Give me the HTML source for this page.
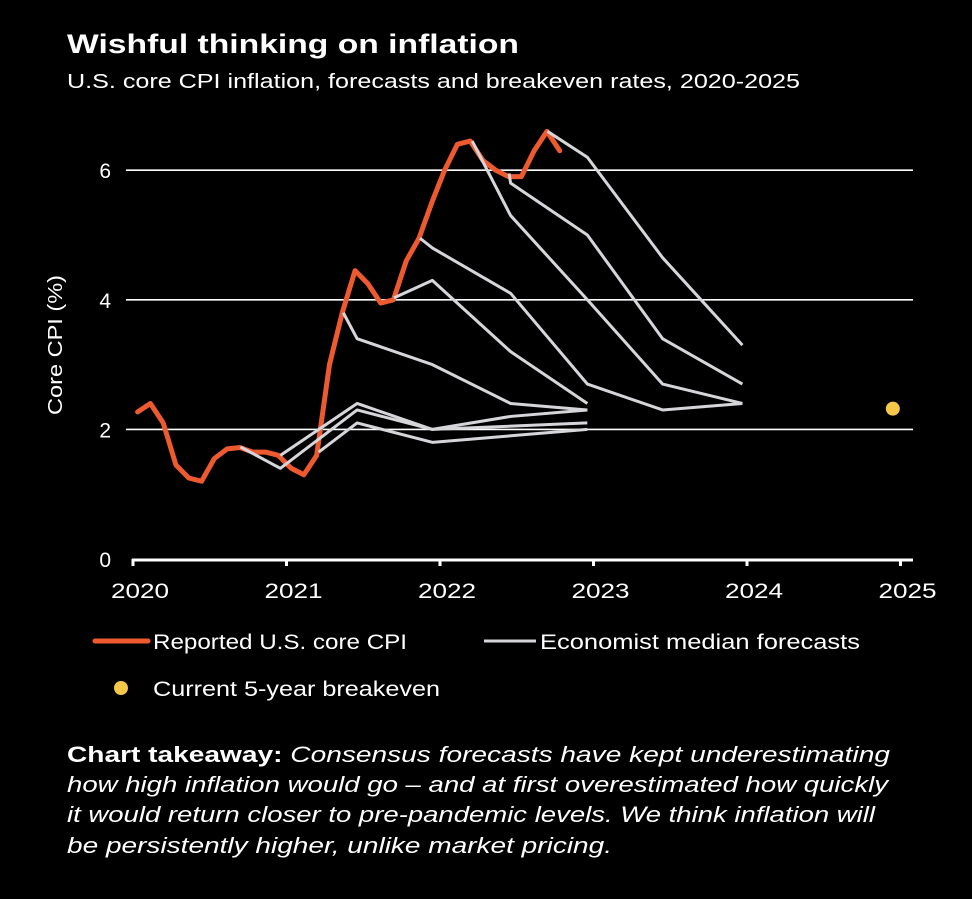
<!DOCTYPE html>
<html><head><meta charset="utf-8"><style>
html,body{margin:0;padding:0;background:#000;}
body{width:972px;height:894px;overflow:hidden;font-family:"Liberation Sans",sans-serif;color:#fff;}
svg text{font-family:"Liberation Sans",sans-serif;fill:#fff;}
</style></head><body>
<svg id="chart" width="972" height="894" viewBox="0 0 972 894" xmlns="http://www.w3.org/2000/svg">
<rect width="972" height="894" fill="#000"/>
<text x="67" y="53" font-size="27" font-weight="bold" textLength="452" lengthAdjust="spacingAndGlyphs">Wishful thinking on inflation</text>
<text x="67" y="88" font-size="20" textLength="733" lengthAdjust="spacingAndGlyphs">U.S. core CPI inflation, forecasts and breakeven rates, 2020-2025</text>
<text transform="translate(62,345) rotate(-90)" text-anchor="middle" font-size="20" textLength="140" lengthAdjust="spacingAndGlyphs">Core CPI (%)</text>
<g id="grid"></g>
<g id="series"></g>
<g>
<line x1="95" y1="641" x2="148" y2="641" stroke="#ee5a2f" stroke-width="5" stroke-linecap="round"/>
<text x="153" y="649" font-size="21" textLength="254" lengthAdjust="spacingAndGlyphs">Reported U.S. core CPI</text>
<line x1="484" y1="641" x2="536" y2="641" stroke="#d6d6da" stroke-width="3"/>
<text x="540" y="649" font-size="21" textLength="320" lengthAdjust="spacingAndGlyphs">Economist median forecasts</text>
<circle cx="121" cy="688" r="7" fill="#f5c84a"/>
<text x="153" y="696" font-size="21" textLength="287" lengthAdjust="spacingAndGlyphs">Current 5-year breakeven</text>
</g>
<g font-size="22">
<text x="67" y="762" textLength="823" lengthAdjust="spacingAndGlyphs"><tspan font-weight="bold">Chart takeaway:</tspan><tspan font-style="italic"> Consensus forecasts have kept underestimating</tspan></text>
<text x="67" y="792" font-style="italic" textLength="821" lengthAdjust="spacingAndGlyphs">how high inflation would go – and at first overestimated how quickly</text>
<text x="67" y="822" font-style="italic" textLength="808" lengthAdjust="spacingAndGlyphs">it would return closer to pre-pandemic levels. We think inflation will</text>
<text x="67" y="853" font-style="italic" textLength="545" lengthAdjust="spacingAndGlyphs">be persistently higher, unlike market pricing.</text>
</g>
</svg>
<script>
const cpiValues=[2.27,2.4,2.1,1.45,1.25,1.2,1.55,1.7,1.72,1.65,1.65,1.6,1.4,1.3,1.6,3.0,3.8,4.45,4.25,3.95,4.0,4.6,4.95,5.5,6.0,6.4,6.45,6.15,6.0,5.9,5.9,6.3,6.6,6.3];
const cpiStart=2020.03;
const forecastTimes=[
 [2020.70,2020.96,2021.46,2021.95,2022.96],
 [2020.96,2021.46,2021.95,2022.46,2022.96],
 [2021.21,2021.46,2021.95,2022.96],
 [2021.37,2021.46,2021.95,2022.46,2022.96],
 [2021.70,2021.95,2022.46,2022.96],
 [2021.87,2021.95,2022.46,2022.96,2023.45,2023.97],
 [2022.21,2022.46,2022.96,2023.45,2023.97],
 [2022.45,2022.46,2022.96,2023.45,2023.97],
 [2022.70,2022.96,2023.45,2023.97]
];
const forecastValues=[
 [1.73,1.4,2.3,2.0,2.1],
 [1.6,2.4,2.0,2.2,2.3],
 [1.65,2.1,1.8,2.0],
 [3.8,3.4,3.0,2.4,2.3],
 [4.03,4.3,3.2,2.4],
 [4.95,4.8,4.1,2.7,2.3,2.4],
 [6.45,5.3,4.0,2.7,2.4],
 [5.95,5.8,5.0,3.4,2.7],
 [6.6,6.2,4.65,3.3]
];
const breakevenTime=[2024.95];
const breakevenValue=[2.32];
const yTicks=[0,2,4,6];
const xTicks=[2020,2021,2022,2023,2024,2025];

const NS='http://www.w3.org/2000/svg';
function x(t){return 133+153.5*(t-2020);}
function y(v){return 559-64.8*v;}
function mk(tag,attrs,parent){const e=document.createElementNS(NS,tag);for(const k in attrs)e.setAttribute(k,attrs[k]);parent.appendChild(e);return e;}
const grid=document.getElementById('grid');
const ser=document.getElementById('series');
yTicks.forEach(v=>{
 if(v>0){const l=mk('line',{x1:126,x2:913,y1:y(v),y2:y(v),stroke:'#fff','stroke-width':1.6},grid);
 
 }
 const t=mk('text',{x:111,y:y(v)+8,'text-anchor':'end','font-size':21},grid);t.textContent=v;
 
 
});
const ax=mk('line',{x1:132,x2:913,y1:560,y2:560,stroke:'#fff','stroke-width':3},grid);


xTicks.forEach(t=>{
 const tk=mk('line',{x1:x(t),x2:x(t),y1:559,y2:566,stroke:'#fff','stroke-width':3},grid);
 
 
 const lb=mk('text',{x:x(t)+7,y:598,'text-anchor':'middle','font-size':21,textLength:58,lengthAdjust:'spacingAndGlyphs'},grid);lb.textContent=t;
 
 
});
const cpiPts=cpiValues.map((v,i)=>x(cpiStart+i/12)+','+y(v)).join(' ');
const cpi=mk('polyline',{points:cpiPts,fill:'none',stroke:'#ee5a2f','stroke-width':5,'stroke-linejoin':'round','stroke-linecap':'round'},ser);


forecastValues.forEach((vals,i)=>{
 const pts=vals.map((v,j)=>x(forecastTimes[i][j])+','+y(v)).join(' ');
 const p=mk('polyline',{points:pts,fill:'none',stroke:'#d6d6da','stroke-width':3,'stroke-linejoin':'round'},ser);
 
 
});
breakevenValue.forEach((v,i)=>{
 const c=mk('circle',{cx:x(breakevenTime[i]),cy:y(v),r:7,fill:'#f5c84a'},ser);
 
 
});
</script>
</body></html>
